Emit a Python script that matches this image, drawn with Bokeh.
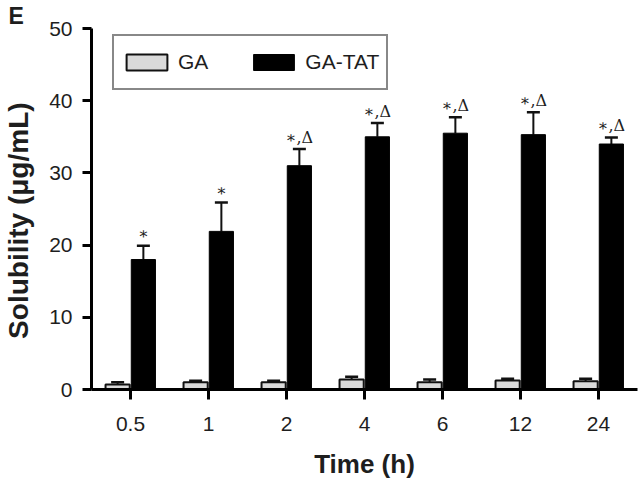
from bokeh.plotting import figure
from bokeh.models import (Range1d, FixedTicker, ColumnDataSource, Whisker, TeeHead,
                          Legend, LegendItem)
from bokeh.core.properties import value
from bokeh.embed import file_html
from bokeh.resources import INLINE
import numpy as np

# ---- data ----
times = ["0.5", "1", "2", "4", "6", "12", "24"]
ga_mean = [0.7, 1.0, 1.0, 1.4, 1.0, 1.25, 1.15]
ga_err = [0.3, 0.2, 0.2, 0.35, 0.4, 0.25, 0.35]
tat_mean = [18.0, 21.9, 31.0, 35.0, 35.5, 35.3, 34.0]
tat_err = [1.9, 4.0, 2.3, 1.9, 2.2, 3.1, 0.9]
tat_sig = ["∗", "∗", "∗,Δ", "∗,Δ", "∗,Δ", "∗,Δ", "∗,Δ"]
y_ticks = [0, 10, 20, 30, 40, 50]

pos = np.arange(len(times)) + 0.5
off = 0.165
bw = 0.31

FONT = "Liberation Sans"
TXT = "#1e1e1e"
FRAME_W, FRAME_H = 546, 361
LEFT, TOP = 83, 25

p = figure(frame_width=FRAME_W, frame_height=FRAME_H, output_backend="svg",
           toolbar_location=None,
           x_range=Range1d(0, len(times)), y_range=Range1d(0, 50),
           min_border_left=LEFT, min_border_right=3, min_border_top=TOP,
           min_border_bottom=0)
p.outline_line_color = None
p.grid.visible = False

# panel letter as the plot title, pushed to the canvas' left edge
p.title.text = "E"
p.title.align = "left"
p.title.offset = -LEFT
p.title.standoff = 0
p.title.text_font = FONT
p.title.text_font_style = "bold"
p.title.text_font_size = "23px"
p.title.text_color = TXT

ga_src = ColumnDataSource(dict(x=pos - off, top=ga_mean,
                               up=[m + e for m, e in zip(ga_mean, ga_err)]))
tat_src = ColumnDataSource(dict(x=pos + off, top=tat_mean,
                                up=[m + e for m, e in zip(tat_mean, tat_err)],
                                sig=tat_sig))

r_ga = p.vbar(x="x", top="top", bottom=0, width=bw, source=ga_src,
              fill_color="#dadada", line_color="#111111", line_width=2)
r_tat = p.vbar(x="x", top="top", bottom=0, width=bw, source=tat_src,
               fill_color="#000000", line_color="#000000", line_width=1)

for src in (ga_src, tat_src):
    w = Whisker(base="x", lower="top", upper="up", source=src,
                upper_head=TeeHead(size=13, line_width=2.5, line_color="#111111"),
                lower_head=None, line_width=2, line_color="#111111")
    p.add_layout(w)

p.text(x="x", y="up", text="sig", source=tat_src,
       text_font=value("DejaVu Serif"), text_font_size="16px",
       text_align="center", text_baseline="middle", y_offset=-12, text_color=TXT)

# axes
p.xaxis.ticker = FixedTicker(ticks=list(pos))
p.xaxis.major_label_overrides = {float(x): t for x, t in zip(pos, times)}
p.yaxis.ticker = FixedTicker(ticks=y_ticks)
for ax in (p.xaxis[0], p.yaxis[0]):
    ax.axis_line_width = 3
    ax.axis_line_color = "#000000"
    ax.major_tick_line_width = 3
    ax.major_tick_line_color = "#000000"
    ax.major_tick_in = 0
    ax.minor_tick_line_color = None
    ax.major_label_text_font = FONT
    ax.major_label_text_font_size = "21px"
    ax.major_label_text_color = TXT
    ax.axis_label_text_font = FONT
    ax.axis_label_text_font_style = "bold"
    ax.axis_label_text_color = TXT
p.xaxis.axis_label_text_font_size = "26px"
p.yaxis.axis_label_text_font_size = "28px"
p.xaxis.major_tick_out = 10
p.yaxis.major_tick_out = 9
p.xaxis.major_label_standoff = 17
p.yaxis.major_label_standoff = 10
p.xaxis.axis_label = "Time (h)"
p.yaxis.axis_label = "Solubility (μg/mL)\u00a0\u00a0\u00a0"
p.xaxis.axis_label_standoff = 15
p.yaxis.axis_label_standoff = 12

legend = Legend(items=[LegendItem(label="GA", renderers=[r_ga]),
                       LegendItem(label="GA-TAT", renderers=[r_tat])],
                location=(21, 299), orientation="horizontal",
                glyph_width=51, glyph_height=20, label_standoff=6, spacing=40,
                padding=7, label_height=38,
                border_line_color="#111111", border_line_width=2,
                label_text_font=FONT, label_text_font_size="21px",
                label_text_color=TXT, background_fill_alpha=1)
p.add_layout(legend)

open("out.html", "w").write(file_html(p, INLINE))
